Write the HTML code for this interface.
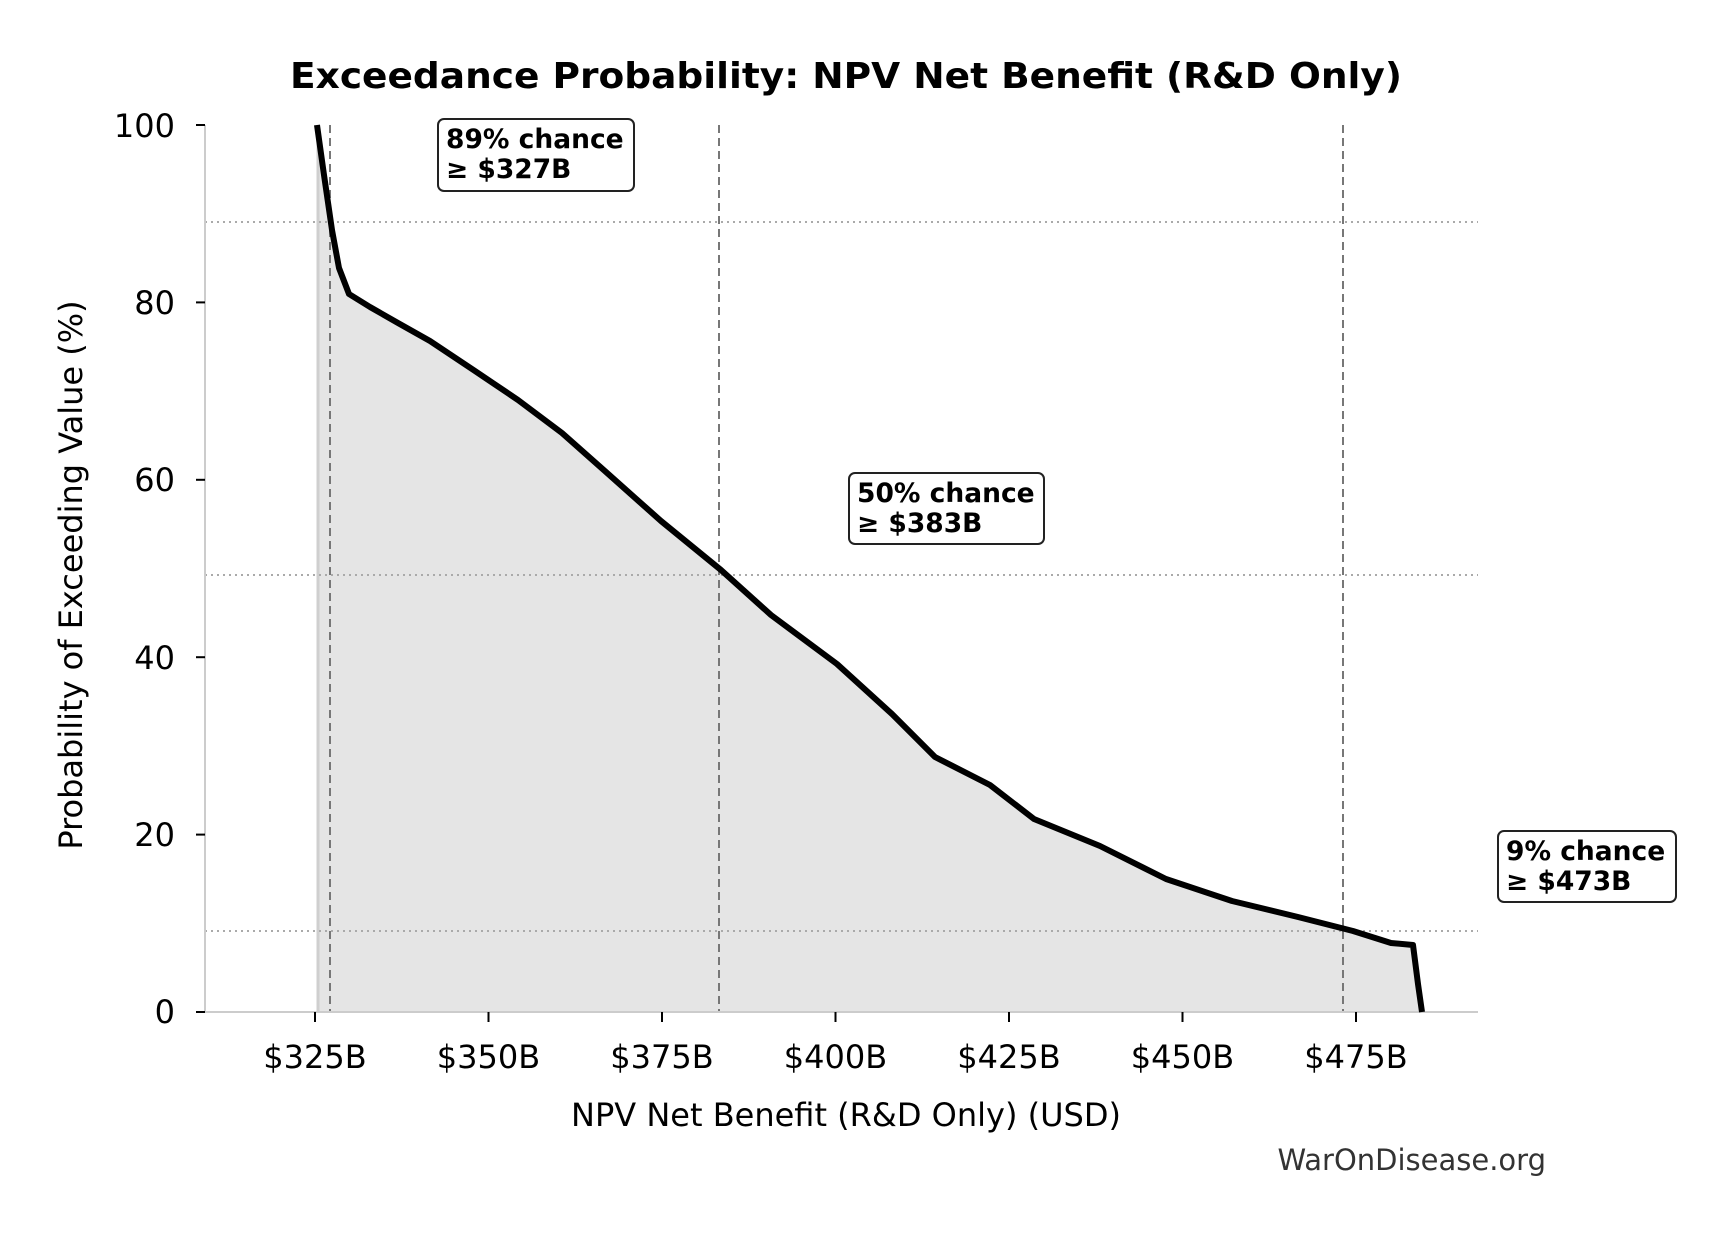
<!DOCTYPE html>
<html><head><meta charset="utf-8"><style>html,body{margin:0;padding:0;background:#fff}svg{display:block}</style></head>
<body>
<svg width="1725" height="1234" viewBox="0 0 1725 1234" xmlns="http://www.w3.org/2000/svg" font-family="'DejaVu Sans','Liberation Sans',sans-serif">
<rect width="1725" height="1234" fill="#fff"/>
<text x="846" y="88" font-size="36" font-weight="bold" text-anchor="middle" textLength="1112" lengthAdjust="spacingAndGlyphs">Exceedance Probability: NPV Net Benefit (R&amp;D Only)</text>
<path d="M317,125 L324,175 L332,230 L339,268 L349,294 L370,307 L398,323 L430,341 L475,371 L518,400 L562,433 L606,472 L661,521 L721,570 L771,615 L837,664 L892,714 L935,757 L990,785 L1034,819 L1100,846 L1166,879 L1232,901 L1298,917 L1353,931 L1391,943 L1413,945 L1418,984 L1422,1012 L317,1012 Z" fill="#e5e5e5"/>
<line x1="318" y1="125" x2="318" y2="1012" stroke="#cfcfcf" stroke-width="3"/>
<g stroke="#aaa" stroke-width="2" stroke-dasharray="2,4">
<line x1="205" y1="222" x2="1478" y2="222"/>
<line x1="205" y1="575" x2="1478" y2="575"/>
<line x1="205" y1="931" x2="1478" y2="931"/>
</g>
<g stroke="#777" stroke-width="2" stroke-dasharray="8,5">
<line x1="330" y1="125" x2="330" y2="1012"/>
<line x1="719" y1="125" x2="719" y2="1012"/>
<line x1="1343" y1="125" x2="1343" y2="1012"/>
</g>
<line x1="205" y1="125" x2="205" y2="1012" stroke="#ccc" stroke-width="2"/>
<line x1="205" y1="1012" x2="1478" y2="1012" stroke="#ccc" stroke-width="2"/>
<path d="M317,125 L324,175 L332,230 L339,268 L349,294 L370,307 L398,323 L430,341 L475,371 L518,400 L562,433 L606,472 L661,521 L721,570 L771,615 L837,664 L892,714 L935,757 L990,785 L1034,819 L1100,846 L1166,879 L1232,901 L1298,917 L1353,931 L1391,943 L1413,945 L1418,984 L1422,1012" fill="none" stroke="#000" stroke-width="6" stroke-linejoin="round"/>
<g stroke="#000" stroke-width="2">
<line x1="196" y1="125" x2="205" y2="125"/><line x1="196" y1="302.4" x2="205" y2="302.4"/><line x1="196" y1="479.8" x2="205" y2="479.8"/><line x1="196" y1="657.2" x2="205" y2="657.2"/><line x1="196" y1="834.6" x2="205" y2="834.6"/><line x1="196" y1="1012" x2="205" y2="1012"/>
<line x1="315" y1="1012" x2="315" y2="1022"/><line x1="488.5" y1="1012" x2="488.5" y2="1022"/><line x1="662" y1="1012" x2="662" y2="1022"/><line x1="835.5" y1="1012" x2="835.5" y2="1022"/><line x1="1009" y1="1012" x2="1009" y2="1022"/><line x1="1182.5" y1="1012" x2="1182.5" y2="1022"/><line x1="1356" y1="1012" x2="1356" y2="1022"/>
</g>
<g font-size="32" text-anchor="end">
<text x="175" y="137">100</text><text x="175" y="314">80</text><text x="175" y="491">60</text><text x="175" y="669">40</text><text x="175" y="846">20</text><text x="175" y="1023">0</text>
</g>
<g font-size="32" text-anchor="middle">
<text x="315" y="1068">$325B</text><text x="488.5" y="1068">$350B</text><text x="662" y="1068">$375B</text><text x="835.5" y="1068">$400B</text><text x="1009" y="1068">$425B</text><text x="1182.5" y="1068">$450B</text><text x="1356" y="1068">$475B</text>
</g>
<text x="846" y="1126" font-size="32" text-anchor="middle">NPV Net Benefit (R&amp;D Only) (USD)</text>
<text transform="translate(82,575) rotate(-90)" font-size="32" text-anchor="middle">Probability of Exceeding Value (%)</text>
<text x="1546" y="1170" font-size="29" text-anchor="end" fill="#333">WarOnDisease.org</text>
<g font-size="26.5" font-weight="bold">
<rect x="438" y="119" width="196" height="72" rx="6" fill="#fff" stroke="#222" stroke-width="2"/>
<text x="446" y="148">89% chance</text><text x="446" y="178">≥ $327B</text>
<rect x="849" y="473" width="195" height="71" rx="6" fill="#fff" stroke="#222" stroke-width="2"/>
<text x="857" y="502">50% chance</text><text x="857" y="532">≥ $383B</text>
<rect x="1498" y="831" width="178" height="71" rx="6" fill="#fff" stroke="#222" stroke-width="2"/>
<text x="1506" y="860">9% chance</text><text x="1506" y="890">≥ $473B</text>
</g>
</svg>
</body></html>
